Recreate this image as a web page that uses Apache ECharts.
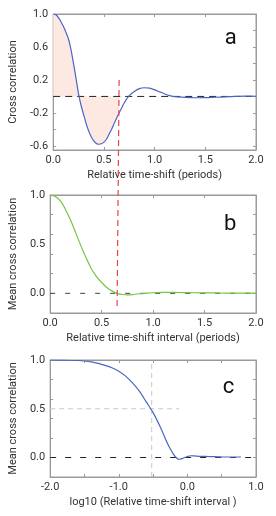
<!DOCTYPE html>
<html><head><meta charset="utf-8">
<script src="https://cdn.jsdelivr.net/npm/echarts@6/dist/echarts.min.js"></script>
<style>html,body{margin:0;padding:0;background:#fff}#c{width:276px;height:516px}</style>
</head><body><div id="c"></div>
<script>
// Panel a: cross correlation vs relative time-shift (periods)
const aX = [0,0.025,0.05,0.075,0.1,0.125,0.15,0.175,0.2,0.225,0.25,0.275,0.3,0.325,0.35,0.375,0.4,0.425,0.45,0.475,0.5,0.525,0.55,0.575,0.6,0.625,0.65,0.675,0.7,0.725,0.75,0.8,0.85,0.9,0.95,1.0,1.05,1.1,1.15,1.2,1.3,1.4,1.5,1.6,1.7,1.8,1.9,2.0];
const aY = [1.0,0.99,0.96,0.91,0.85,0.78,0.70,0.57,0.40,0.22,0.03,-0.11,-0.22,-0.33,-0.42,-0.49,-0.54,-0.57,-0.58,-0.575,-0.555,-0.52,-0.46,-0.40,-0.33,-0.265,-0.20,-0.14,-0.08,-0.03,0.01,0.06,0.095,0.105,0.10,0.08,0.055,0.03,0.01,-0.003,-0.012,-0.016,-0.015,-0.01,-0.005,0.0,0.003,0.002];
const shadeEnd = 0.65;
// Panel b: mean cross correlation vs relative time-shift interval (periods)
const bX = [0,0.05,0.1,0.15,0.2,0.25,0.3,0.35,0.4,0.45,0.5,0.55,0.6,0.65,0.7,0.75,0.8,0.85,0.9,0.95,1.0,1.1,1.2,1.3,1.4,1.5,1.6,1.7,1.8,1.9,2.0];
const bY = [1.0,0.985,0.94,0.85,0.74,0.61,0.48,0.36,0.25,0.17,0.11,0.06,0.025,0.0,-0.012,-0.016,-0.013,-0.007,-0.002,0.003,0.006,0.009,0.009,0.008,0.006,0.005,0.004,0.003,0.003,0.003,0.003];
// Panel c: mean cross correlation vs log10(relative time-shift interval)
const cX = [-2.0,-1.8,-1.6,-1.5,-1.4,-1.3,-1.2,-1.1,-1.0,-0.9,-0.8,-0.7,-0.6,-0.5,-0.4,-0.3,-0.25,-0.2,-0.15,-0.12,-0.08,-0.04,0.0,0.05,0.1,0.2,0.3,0.4,0.5,0.6,0.7,0.78];
const cY = [1.0,0.998,0.995,0.99,0.98,0.965,0.945,0.92,0.885,0.835,0.765,0.68,0.57,0.46,0.32,0.16,0.09,0.03,-0.01,-0.018,-0.012,0.0,0.01,0.018,0.016,0.012,0.01,0.008,0.006,0.005,0.005,0.005];
// reference lines
const redX = 0.65, redTopY = 0.2, redBottomY = -0.17;
const cHalfX = -0.52, cHalfY = 0.5, cHalfLineEnd = -0.12;
// ticks
const abXLabels = [0,0.5,1.0,1.5,2.0];
const aYLabels = [-0.6,-0.2,0.2,0.6,1.0];
const aYTicks = [-0.6,-0.4,-0.2,0,0.2,0.4,0.6,0.8,1.0];
const bcYLabels = [0,0.5,1.0];
const bcYTicks = [0,0.2,0.4,0.6,0.8,1.0];
const cXLabels = [-2,-1,0,1];
const cXTicks = [-2,-1.5,-1,-0.5,0,0.5,1];

const FONT = 'Roboto';
const axisCol = '#9a9a9a';
const txtCol = '#333';
const fmt = v => v.toFixed(1);
const zip = (xs, ys) => xs.map((x, i) => [x, ys[i]]);

const gBase = {left:47, width:209, show:true, borderColor:axisCol, borderWidth:1, backgroundColor:'transparent'};
const grids = [
  Object.assign({top:14, height:136}, gBase),
  Object.assign({top:195, height:118}, gBase),
  Object.assign({top:360, height:117}, gBase)
];
const xAxes = [], yAxes = [];
function addAxes(g, xr, yr, xLab, xTicks, yLab, yTicks, xName, yName) {
  const line = {show:true, onZero:false, lineStyle:{color:axisCol, width:1}};
  const tick = vals => ({show:true, inside:true, length:3, lineStyle:{color:axisCol}, customValues:vals});
  xAxes.push({type:'value', gridIndex:g, min:xr[0], max:xr[1], position:'bottom', axisLine:line,
    axisTick:tick(xTicks), splitLine:{show:false},
    axisLabel:{customValues:xLab, formatter:fmt, fontFamily:FONT, fontSize:11, color:txtCol, margin:5},
    name:xName, nameLocation:'middle', nameGap:20, nameTextStyle:{fontFamily:FONT, fontSize:11, color:txtCol}});
  xAxes.push({type:'value', gridIndex:g, min:xr[0], max:xr[1], position:'top', axisLine:line,
    axisTick:tick(xTicks), axisLabel:{show:false}, splitLine:{show:false}});
  yAxes.push({type:'value', gridIndex:g, min:yr[0], max:yr[1], position:'left', axisLine:line,
    axisTick:tick(yTicks), splitLine:{show:false},
    axisLabel:{customValues:yLab, formatter:fmt, fontFamily:FONT, fontSize:11, color:txtCol, margin:5},
    name:yName, nameLocation:'middle', nameGap:29, nameTextStyle:{fontFamily:FONT, fontSize:11, color:txtCol}});
  yAxes.push({type:'value', gridIndex:g, min:yr[0], max:yr[1], position:'right', axisLine:line,
    axisTick:tick(yTicks), axisLabel:{show:false}, splitLine:{show:false}});
}
addAxes(0, [0,2], [-0.65,1], abXLabels, abXLabels, aYLabels, aYTicks, 'Relative time-shift (periods)', 'Cross correlation');
addAxes(1, [0,2], [-0.2,1], abXLabels, abXLabels, bcYLabels, bcYTicks, 'Relative time-shift interval (periods)', 'Mean cross correlation');
addAxes(2, [-2,1], [-0.2,1], cXLabels, cXTicks, bcYLabels, bcYTicks, 'log10 (Relative time-shift interval )', 'Mean cross correlation');

const aData = zip(aX, aY);
const shade = aData.filter(p => p[0] <= shadeEnd);
const series = [
  {type:'line', xAxisIndex:0, yAxisIndex:0, data:shade, showSymbol:false, lineStyle:{width:0}, areaStyle:{color:'#fde9e2', opacity:1}, silent:true, z:1},
  {type:'line', xAxisIndex:0, yAxisIndex:0, data:[[0,0],[2,0]], showSymbol:false, lineStyle:{color:'#222', width:1, type:[7,5]}, z:2},
  {type:'line', xAxisIndex:0, yAxisIndex:0, data:aData, smooth:0.3, showSymbol:false, lineStyle:{color:'#4a66c4', width:1.2}, z:3},
  {type:'line', xAxisIndex:2, yAxisIndex:2, data:[[0,0],[2,0]], showSymbol:false, lineStyle:{color:'#444', width:1, type:[5,10]}, z:2},
  {type:'line', xAxisIndex:2, yAxisIndex:2, data:zip(bX, bY), smooth:0.3, showSymbol:false, lineStyle:{color:'#76c442', width:1.2}, z:3},
  {type:'line', xAxisIndex:4, yAxisIndex:4, data:[[-2,0],[1,0]], showSymbol:false, lineStyle:{color:'#222', width:1, type:[6,9]}, z:2},
  {type:'line', xAxisIndex:4, yAxisIndex:4, data:[[cHalfX,-0.2],[cHalfX,1]], showSymbol:false, lineStyle:{color:'#c8c8c8', width:1, type:[5,4]}, z:2},
  {type:'line', xAxisIndex:4, yAxisIndex:4, data:[[-2,cHalfY],[cHalfLineEnd,cHalfY]], showSymbol:false, lineStyle:{color:'#c8c8c8', width:1, type:[5,4]}, z:2},
  {type:'line', xAxisIndex:4, yAxisIndex:4, data:zip(cX, cY), smooth:0.3, showSymbol:false, lineStyle:{color:'#4a66c4', width:1.2}, z:3}
];

const chart = echarts.init(document.getElementById('c'), null, {renderer:'canvas'});
chart.setOption({
  animation:false, backgroundColor:'#fff',
  grid:grids, xAxis:xAxes, yAxis:yAxes, series:series
});
const p1 = chart.convertToPixel({xAxisIndex:0, yAxisIndex:0}, [redX, redTopY]);
const p2 = chart.convertToPixel({xAxisIndex:2, yAxisIndex:2}, [redX, redBottomY]);
const la = chart.convertToPixel({xAxisIndex:0, yAxisIndex:0}, [1.75, 0.7]);
const lb = chart.convertToPixel({xAxisIndex:2, yAxisIndex:2}, [1.75, 0.7]);
const lc = chart.convertToPixel({xAxisIndex:4, yAxisIndex:4}, [0.6, 0.72]);
const letter = (p, t) => ({type:'text', x:p[0], y:p[1], z:100, style:{text:t, fill:'#111', font:'22px ' + FONT, align:'center', verticalAlign:'middle'}});
chart.setOption({graphic:[
  {type:'line', z:100, shape:{x1:p1[0], y1:p1[1], x2:p2[0], y2:p2[1]}, style:{stroke:'#e8463f', lineWidth:1.2, lineDash:[6,4]}},
  letter(la, 'a'), letter(lb, 'b'), letter(lc, 'c')
]});
</script></body></html>
